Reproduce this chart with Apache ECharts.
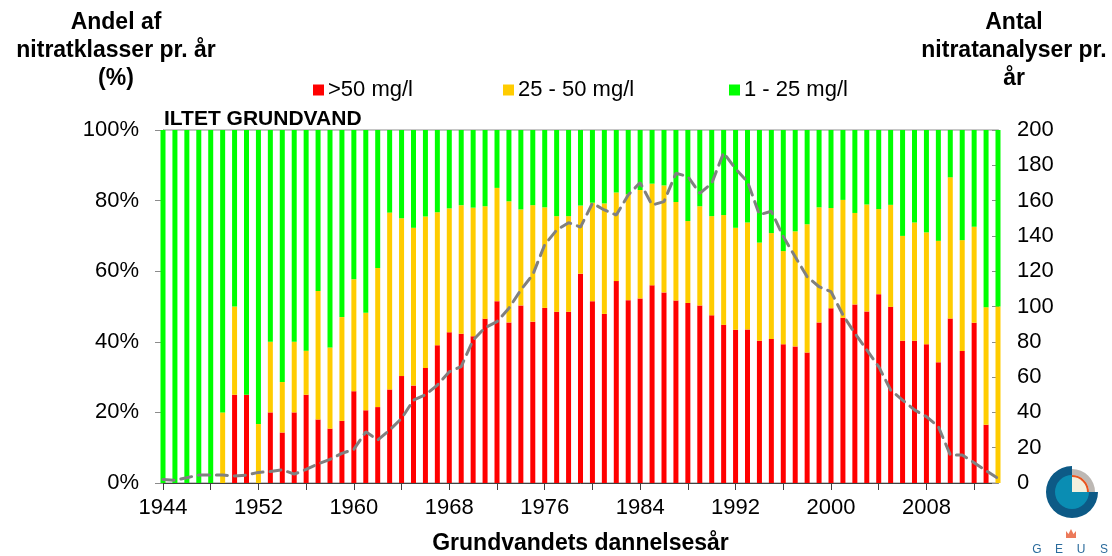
<!DOCTYPE html>
<html>
<head>
    <meta charset="utf-8">
    <title>Iltet grundvand</title>
    <script src="https://cdn.jsdelivr.net/npm/echarts@6.0.0/dist/echarts.min.js"></script>
    <style>
        html, body, #main {
            width: 100%;
            height: 100%;
            margin: 0;
            background: #fff;
        }
    </style>
</head>
<body>
    <div id="main"></div>
    <script type="text/javascript">
        var years = [1944, 1945, 1946, 1947, 1948, 1949, 1950, 1951, 1952, 1953,
            1954, 1955, 1956, 1957, 1958, 1959, 1960, 1961, 1962, 1963,
            1964, 1965, 1966, 1967, 1968, 1969, 1970, 1971, 1972, 1973,
            1974, 1975, 1976, 1977, 1978, 1979, 1980, 1981, 1982, 1983,
            1984, 1985, 1986, 1987, 1988, 1989, 1990, 1991, 1992, 1993,
            1994, 1995, 1996, 1997, 1998, 1999, 2000, 2001, 2002, 2003,
            2004, 2005, 2006, 2007, 2008, 2009, 2010, 2011, 2012, 2013, 2014];

        // andel (%) pr. aar
        var over50 = [0, 0, 0, 0, 0, 0, 25, 25, 0, 20,
            14.3, 20, 25, 18, 15.4, 17.6, 26, 20.6, 21.5, 26.5,
            30.3, 27.6, 32.6, 39, 42.7, 42.3, 41.6, 46.5, 51.5, 45.5,
            50.3, 45.7, 49.6, 48.5, 48.5, 59.3, 51.5, 47.9, 57.2, 51.8,
            52.3, 56, 54, 51.7, 51, 50.3, 47.5, 44.8, 43.4, 43.5,
            40.3, 40.8, 39.3, 38.7, 37, 45.5, 49.5, 46.8, 50.6, 48.6,
            53.5, 49.9, 40.3, 40.3, 39.3, 34.2, 46.6, 37.4, 45.4, 16.5, 0];
        var from25to50 = [0, 0, 0, 0, 0, 20, 25, 0, 16.7, 20,
            14.3, 20, 12.5, 36.4, 23, 29.4, 31.7, 27.6, 39.4, 50.1,
            44.7, 44.7, 42.9, 37.7, 35.1, 36.4, 36.4, 31.9, 32.1, 34.3,
            27.2, 33, 28.5, 27.1, 27.1, 19.3, 27.9, 31.3, 25.1, 30,
            30.7, 28.8, 30.3, 27.9, 23.2, 28.1, 28.1, 31.1, 28.9, 30.3,
            27.8, 30, 26.4, 32.6, 36.3, 32.6, 28.4, 33.4, 25.9, 30.3,
            24.1, 28.9, 29.7, 33.5, 31.7, 34.4, 40, 31.4, 27.2, 33.3, 50];
        var from1to25 = [100, 100, 100, 100, 100, 80, 50, 75, 83.3, 60,
            71.4, 60, 62.5, 45.6, 61.6, 53, 42.3, 51.8, 39.1, 23.4,
            25, 27.7, 24.5, 23.3, 22.2, 21.3, 22, 21.6, 16.4, 20.2,
            22.5, 21.3, 21.9, 24.4, 24.4, 21.4, 20.6, 20.8, 17.7, 18.2,
            17, 15.2, 15.7, 20.4, 25.8, 21.6, 24.4, 24.1, 27.7, 26.2,
            31.9, 29.2, 34.3, 28.7, 26.7, 21.9, 22.1, 19.8, 23.5, 21.1,
            22.4, 21.2, 30, 26.2, 29, 31.4, 13.4, 31.2, 27.4, 50.2, 50];

        // antal nitratanalyser pr. aar
        var analyses = [2, 1.5, 3, 4.5, 4.5, 4.5, 4, 4.5, 6, 6.5,
            7.5, 5, 7.7, 10.8, 13.4, 16.8, 19.1, 29, 24.4, 30,
            36.6, 47, 50, 55.5, 63, 66, 81, 88, 91.4, 99,
            109.4, 118, 135, 143.3, 147.5, 145, 158.5, 154.7, 151.8, 163.2,
            170.2, 157.5, 159.4, 175.5, 173.6, 164.1, 169.8, 187.1, 178, 170.7,
            152, 154, 139.6, 128.2, 116.9, 111.2, 108.4, 95.2, 84.8, 75.4,
            65.9, 52.7, 47, 41.4, 37.6, 31.9, 15.9, 15.9, 11.5, 7, 2.6];

        var seriesNames = ['>50 mg/l', '25 - 50 mg/l', '1 - 25 mg/l'];
        var seriesColors = ['#ff0000', '#ffcc00', '#00ff00'];
        var xLabelYears = [1944, 1952, 1960, 1968, 1976, 1984, 1992, 2000, 2008];
        var xTickYears = [1944, 1948, 1952, 1956, 1960, 1964, 1968, 1972, 1976, 1980,
            1984, 1988, 1992, 1996, 2000, 2004, 2008, 2012];

        var FONT = '"Liberation Sans", Arial, sans-serif';

        // [andel, aar] so that the stack runs on the percentage dimension
        function barPairs(vals) {
            return years.map(function (y, i) { return [vals[i], y]; });
        }

        function barSeries(name, color, vals) {
            return {
                name: name,
                type: 'bar',
                stack: 'andel',
                barWidth: 5,
                clip: true,
                encode: { x: 1, y: 0 },
                data: barPairs(vals),
                itemStyle: { color: color }
            };
        }

        function legendAt(name, left) {
            return {
                data: [name],
                left: left,
                top: 79,
                padding: 0,
                icon: 'rect',
                itemWidth: 11,
                itemHeight: 11,
                selectedMode: false,
                textStyle: { fontSize: 22, color: '#000', fontFamily: FONT, padding: [0, 0, 0, -1] }
            };
        }

        function titleText(x, y, text, size) {
            return {
                type: 'text',
                x: x,
                y: y,
                style: {
                    text: text,
                    fill: '#000',
                    font: 'bold ' + size + 'px ' + FONT,
                    fontSize: size,
                    fontWeight: 'bold',
                    fontFamily: FONT,
                    lineHeight: 28,
                    align: 'center',
                    textAlign: 'center',
                    verticalAlign: 'top',
                    textVerticalAlign: 'top'
                }
            };
        }

        var myChart = echarts.init(document.getElementById('main'));

        var option = {
            animation: false,
            backgroundColor: '#fff',
            grid: {
                left: 163,
                right: 114,
                top: 130,
                bottom: 73,
                outerBoundsMode: 'none',
                show: true,
                borderColor: '#8c8c8c',
                borderWidth: 1
            },
            legend: [
                legendAt(seriesNames[0], 313),
                legendAt(seriesNames[1], 503),
                legendAt(seriesNames[2], 729)
            ],
            xAxis: {
                type: 'value',
                min: 1944,
                max: 2014,
                interval: 4,
                name: 'Grundvandets dannelsesår',
                nameLocation: 'middle',
                nameGap: 49,
                nameTextStyle: { fontSize: 23, fontWeight: 'bold', color: '#000', fontFamily: FONT },
                axisLine: { lineStyle: { color: '#404040', width: 1 } },
                axisTick: { show: true, length: 7, lineStyle: { color: '#404040' }, customValues: xTickYears },
                axisLabel: {
                    fontSize: 22,
                    color: '#000',
                    fontFamily: FONT,
                    margin: 14,
                    customValues: xLabelYears,
                    formatter: function (v) {
                        return xLabelYears.indexOf(v) >= 0 ? String(v) : '';
                    }
                },
                splitLine: { show: false }
            },
            yAxis: [{
                type: 'value',
                min: 0,
                max: 100,
                interval: 20,
                axisLine: { show: true, lineStyle: { color: '#8c8c8c' } },
                axisTick: { show: true, length: 8, lineStyle: { color: '#8c8c8c' } },
                axisLabel: { formatter: '{value}%', fontSize: 22, color: '#000', fontFamily: FONT, margin: 24 },
                splitLine: { show: false }
            }, {
                type: 'value',
                position: 'right',
                min: 0,
                max: 200,
                interval: 20,
                axisLine: { show: true, lineStyle: { color: '#8c8c8c' } },
                axisTick: { show: true, inside: true, length: 6, lineStyle: { color: '#8c8c8c' } },
                axisLabel: { fontSize: 22, color: '#000', fontFamily: FONT, margin: 19 },
                splitLine: { show: false }
            }],
            graphic: [
                titleText(116, 9, 'Andel af\nnitratklasser pr. år\n(%)', 23),
                titleText(1014, 9, 'Antal\nnitratanalyser pr.\når', 23),
                {
                    type: 'text',
                    x: 164,
                    y: 119,
                    style: {
                        text: 'ILTET GRUNDVAND',
                        fill: '#000',
                        font: 'bold 21px ' + FONT,
                        verticalAlign: 'middle',
                        textVerticalAlign: 'middle'
                    }
                },
                // GEUS logo
                { type: 'sector', shape: { cx: 1072, cy: 492, r0: 0, r: 26, startAngle: 0, endAngle: Math.PI * 1.5, clockwise: true }, style: { fill: '#0d5a86' } },
                { type: 'sector', shape: { cx: 1072, cy: 492, r0: 0, r: 17, startAngle: 0, endAngle: Math.PI * 1.5, clockwise: true }, style: { fill: '#0a8db3' } },
                { type: 'sector', shape: { cx: 1072, cy: 492, r0: 17, r: 23, startAngle: -Math.PI / 2, endAngle: 0, clockwise: true }, style: { fill: '#bdb8b4' } },
                { type: 'sector', shape: { cx: 1072, cy: 492, r0: 0, r: 17, startAngle: -Math.PI / 2, endAngle: 0, clockwise: true }, style: { fill: '#e8541e' } },
                { type: 'sector', shape: { cx: 1072, cy: 492, r0: 0, r: 15, startAngle: -Math.PI / 2, endAngle: 0, clockwise: true }, style: { fill: '#f3f0dd' } },
                { type: 'polygon', shape: { points: [[1066, 538], [1066, 531], [1068.5, 534], [1071, 529], [1073.5, 534], [1076, 531], [1076, 538]] }, style: { fill: '#ec7a5a' } },
                { type: 'text', x: 1037, y: 550, style: { text: 'G', fill: '#2a6b9c', font: '12px ' + FONT, align: 'center', verticalAlign: 'middle' } },
                { type: 'text', x: 1059, y: 550, style: { text: 'E', fill: '#2a6b9c', font: '12px ' + FONT, align: 'center', verticalAlign: 'middle' } },
                { type: 'text', x: 1081, y: 550, style: { text: 'U', fill: '#2a6b9c', font: '12px ' + FONT, align: 'center', verticalAlign: 'middle' } },
                { type: 'text', x: 1104, y: 550, style: { text: 'S', fill: '#2a6b9c', font: '12px ' + FONT, align: 'center', verticalAlign: 'middle' } }
            ],
            series: [
                barSeries(seriesNames[0], seriesColors[0], over50),
                barSeries(seriesNames[1], seriesColors[1], from25to50),
                barSeries(seriesNames[2], seriesColors[2], from1to25),
                {
                    name: 'Antal nitratanalyser',
                    type: 'line',
                    yAxisIndex: 1,
                    data: years.map(function (y, i) { return [y, analyses[i]]; }),
                    symbol: 'none',
                    z: 5,
                    lineStyle: { color: '#808080', width: 3, type: [11, 7], cap: 'round' }
                }
            ]
        };

        if (option && typeof option === "object") {
            myChart.setOption(option, true);
        }
    </script>
</body>
</html>
